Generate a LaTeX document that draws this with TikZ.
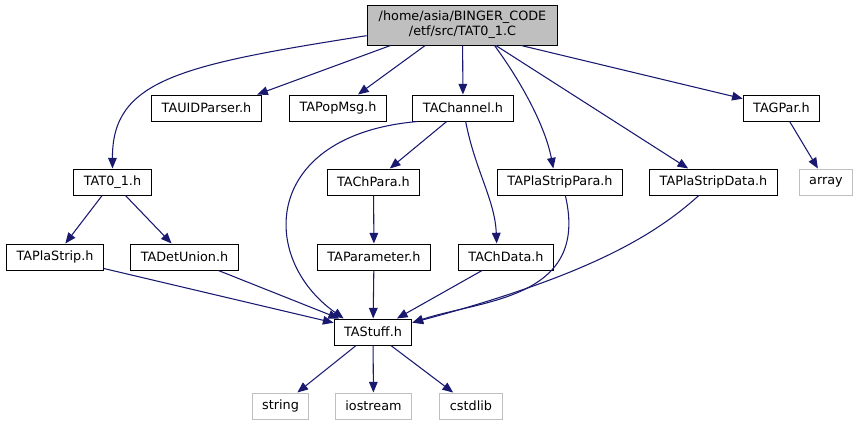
\documentclass[tikz,border=0pt]{standalone}
\usepackage{fontspec}
\setmainfont{DejaVu Sans}
\usepackage{xcolor}
\usetikzlibrary{arrows.meta, positioning}
\definecolor{navy}{HTML}{191970}
\definecolor{silver}{HTML}{BFBFBF}

\tikzset{
    hfile/.style={draw=black, fill=white, line width=0.75pt, minimum height=19.5pt, inner xsep=7.5pt, inner ysep=0pt, font=\fontsize{9.6}{11.25}\selectfont},
    mainfile/.style={hfile, fill=silver, align=center, minimum width=143pt, minimum height=30pt},
    sysfile/.style={hfile, draw=silver},
    incl/.style={draw=navy, line width=0.8pt, -{Triangle[length=8pt, width=6.5pt]}}
}

\begin{document}
\begin{tikzpicture}[x=0.75pt, y=-0.75pt]
    \useasboundingbox (0,0) rectangle (865,425);

    % the source file
    \node[mainfile] (root) at (462.5,25) {/home/asia/BINGER\_CODE\\/etf/src/TAT0\_1.C};

    % headers
    \node[hfile] (uidparser) at (206.5,108) {TAUIDParser.h};
    \node[hfile] (popmsg) at (338,108) {TAPopMsg.h};
    \node[hfile] (channel) at (463,108) {TAChannel.h};
    \node[hfile] (gpar) at (781.5,108) {TAGPar.h};
    \node[hfile] (tat01) at (112.5,182) {TAT0\_1.h};
    \node[hfile] (chpara) at (373.5,182) {TAChPara.h};
    \node[hfile] (stripara) at (560,182) {TAPlaStripPara.h};
    \node[hfile] (stripdata) at (713.5,182) {TAPlaStripData.h};
    \node[hfile] (plastrip) at (55,257) {TAPlaStrip.h};
    \node[hfile] (detunion) at (184.5,257) {TADetUnion.h};
    \node[hfile] (parameter) at (374,257) {TAParameter.h};
    \node[hfile] (chdata) at (506,257) {TAChData.h};
    \node[hfile] (stuff) at (373,332) {TAStuff.h};

    % system headers
    \node[sysfile] (array) at (826,182) {array};
    \node[sysfile] (string) at (280.5,406) {string};
    \node[sysfile] (iostream) at (373.5,406) {iostream};
    \node[sysfile] (cstdlib) at (471,406) {cstdlib};

    % includes of the source file
    \draw[incl] ([yshift=-8pt]root.west) .. controls (180,65) and (112,80) .. (tat01.north);
    \draw[incl] ([xshift=-54pt]root.south) -- ([xshift=38pt]uidparser.north);
    \draw[incl] ([xshift=-28pt]root.south) -- ([xshift=15pt]popmsg.north);
    \draw[incl] (root) -- (channel);
    \draw[incl] ([xshift=24pt]root.south) .. controls (520,80) and (545,125) .. ([xshift=-5pt]stripara.north);
    \draw[incl] ([xshift=25pt]root.south) -- ([xshift=-19pt]stripdata.north);
    \draw[incl] ([xshift=44pt]root.south) -- ([yshift=7pt]gpar.west);

    % includes of the headers
    \draw[incl] (gpar) -- (array);
    \draw[incl] (tat01) -- (plastrip);
    \draw[incl] (tat01) -- (detunion);
    \draw[incl] (channel) -- (chpara);
    \draw[incl] ([xshift=-34pt]channel.south) .. controls (262,135) and (258,258) .. ([xshift=-22pt]stuff.north);
    \draw[incl] ([xshift=2pt]channel.south) .. controls (475,170) and (495,200) .. ([xshift=-7pt]chdata.north);
    \draw[incl] (chpara) -- (parameter);
    \draw[incl] ([xshift=4pt]stripara.south) .. controls (590,300) and (480,300) .. ([yshift=7pt]stuff.east);
    \draw[incl] ([xshift=-11pt]stripdata.south) .. controls (655,235) and (590,275) .. ([yshift=7pt]stuff.east);
    \draw[incl] (plastrip) -- (stuff);
    \draw[incl] (detunion) -- (stuff);
    \draw[incl] (parameter) -- (stuff);
    \draw[incl] (chdata) -- (stuff);
    \draw[incl] (stuff) -- (string);
    \draw[incl] (stuff) -- (iostream);
    \draw[incl] (stuff) -- (cstdlib);
\end{tikzpicture}
\end{document}
